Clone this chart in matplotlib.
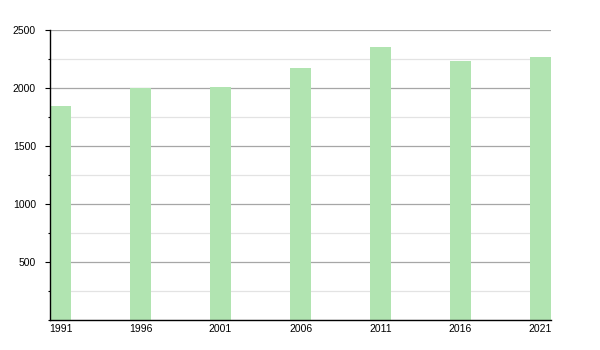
import numpy as np
import matplotlib
matplotlib.use('Agg')
import matplotlib.pyplot as plt
from matplotlib.ticker import MultipleLocator

# ==============Chart data============
years = ['1991', '1996', '2001', '2006', '2011', '2016', '2021']
population = [1847, 1999, 2010, 2175, 2355, 2233, 2270]
yTicks = [500, 1000, 1500, 2000, 2500]
#=====================================

barColor = '#b1e4b1'
barWidth = 0.265

plt.rcParams['font.family'] = ['Liberation Sans', 'DejaVu Sans']

fig = plt.figure(figsize=(6, 3.5), dpi=100)
ax = fig.add_axes([50/600, 30/350, 501/600, 290/350])

pos = np.arange(len(years))
ax.bar(pos, population, width=barWidth, align='edge', color=barColor, zorder=3)

ax.set_xlim(0, pos[-1] + barWidth)
ax.set_ylim(0, 2500)

ax.set_xticks(pos + barWidth/2)
ax.set_xticklabels(years, fontsize=7.5)
ax.tick_params(axis='x', length=0, pad=3)

ax.set_yticks(yTicks)
ax.set_yticklabels([str(v) for v in yTicks], fontsize=7.5)
ax.yaxis.set_minor_locator(MultipleLocator(250))
ax.tick_params(axis='y', which='major', length=3.6, width=0.8, pad=6.5)
ax.tick_params(axis='y', which='minor', length=1.6, width=0.8)

# grid lines: darker for major, faint for minor
ax.grid(axis='y', which='major', color='#a6a6a6', linewidth=0.9, zorder=1)
ax.grid(axis='y', which='minor', color='#e3e3e3', linewidth=0.9, zorder=1)

for side in ['top', 'right']:
    ax.spines[side].set_visible(False)
ax.spines['left'].set_linewidth(1.0)
ax.spines['bottom'].set_linewidth(1.0)
ax.spines['left'].set_zorder(4)
ax.spines['bottom'].set_zorder(4)

fig.savefig('out.png', dpi=100)
